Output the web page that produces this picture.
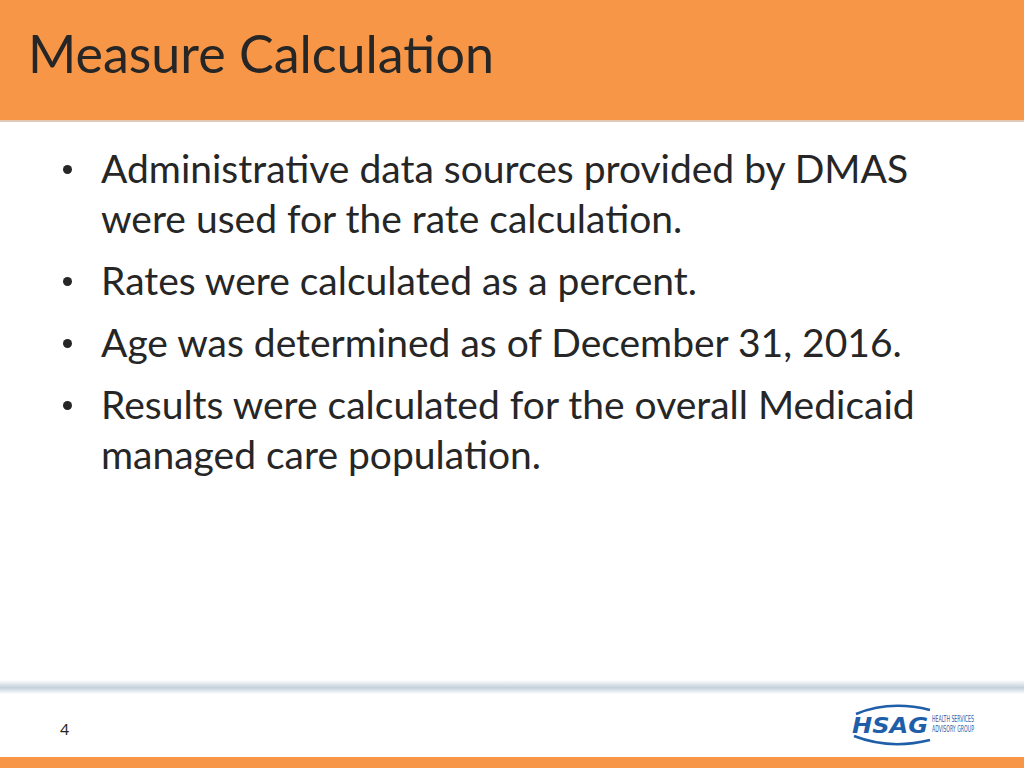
<!DOCTYPE html>
<html lang="en">
<head>
    <meta charset="UTF-8">
    <title>Measure Calculation</title>
    <script src="https://cdn.jsdelivr.net/npm/chart.js@4"></script>
    <style>
        *{box-sizing:border-box}
        html,body{margin:0;padding:0}
        body{width:1024px;height:768px;position:relative;overflow:hidden;background:#fff;font-family:Lato,'Open Sans',sans-serif;color:#262626}
        .header{position:absolute;left:0;top:0;width:1024px;height:122px;background:#f79646;border-bottom:2px solid #e2c9b4}
        .header h1{position:absolute;left:28px;top:23px;margin:0;font-weight:400;font-size:52px;line-height:60px;color:#262626}
        ul{position:absolute;left:0;top:143px;margin:0;padding:0;list-style:none}
        li{position:relative;padding-left:101px;width:961px;font-size:39px;line-height:50px;margin-bottom:12px}
        li::before{content:'';position:absolute;left:63px;top:22px;width:9px;height:9px;border-radius:50%;background:#262626}
        .shadow{position:absolute;left:0;top:680px;width:1024px;height:14px;background:linear-gradient(#fff,#c3d0da 55%,#fff)}
        .page{position:absolute;left:60px;top:719px;font-size:16px;color:#262626}
        .bottom{position:absolute;left:0;top:757px;width:1024px;height:11px;background:#f79646}
        .logo{position:absolute;left:850px;top:700px}
    </style>
</head>
<body>
    <div class="header"><h1 id="title"></h1></div>
    <ul id="bullets"></ul>
    <div class="shadow"></div>
    <div class="page" id="page"></div>
    <svg class="logo" width="150" height="50" viewBox="0 0 150 50">
        <path d="M6 14 Q40 0 80 10" fill="none" stroke="#1f5ea8" stroke-width="2.5"/>
        <path d="M4 36 Q40 50 80 40" fill="none" stroke="#1f5ea8" stroke-width="2.5"/>
        <text x="2" y="33" font-family="'DejaVu Sans',sans-serif" font-weight="bold" font-style="italic" font-size="22" fill="#1f5ea8" textLength="76" lengthAdjust="spacingAndGlyphs">HSAG</text>
        <text x="82" y="22" font-family="'Liberation Sans Narrow','DejaVu Sans Condensed',sans-serif" font-size="8" fill="#1f5ea8" textLength="42" lengthAdjust="spacingAndGlyphs">HEALTH SERVICES</text>
        <text x="82" y="32" font-family="'Liberation Sans Narrow','DejaVu Sans Condensed',sans-serif" font-size="8" fill="#1f5ea8" textLength="42" lengthAdjust="spacingAndGlyphs">ADVISORY GROUP</text>
    </svg>
    <div class="bottom"></div>

    <script>
        // Slide text
        const slideTitle = 'Measure Calculation';
        const bulletPoints = [
            'Administrative data sources provided by DMAS were used for the rate calculation.',
            'Rates were calculated as a percent.',
            'Age was determined as of December 31, 2016.',
            'Results were calculated for the overall Medicaid managed care population.'
        ];
        const pageNumber = '4';

        document.getElementById('title').textContent = slideTitle;
        document.getElementById('page').textContent = pageNumber;
        const list = document.getElementById('bullets');
        bulletPoints.forEach(text => {
            const li = document.createElement('li');
            li.textContent = text;
            list.appendChild(li);
        });
    </script>
</body>
</html>
